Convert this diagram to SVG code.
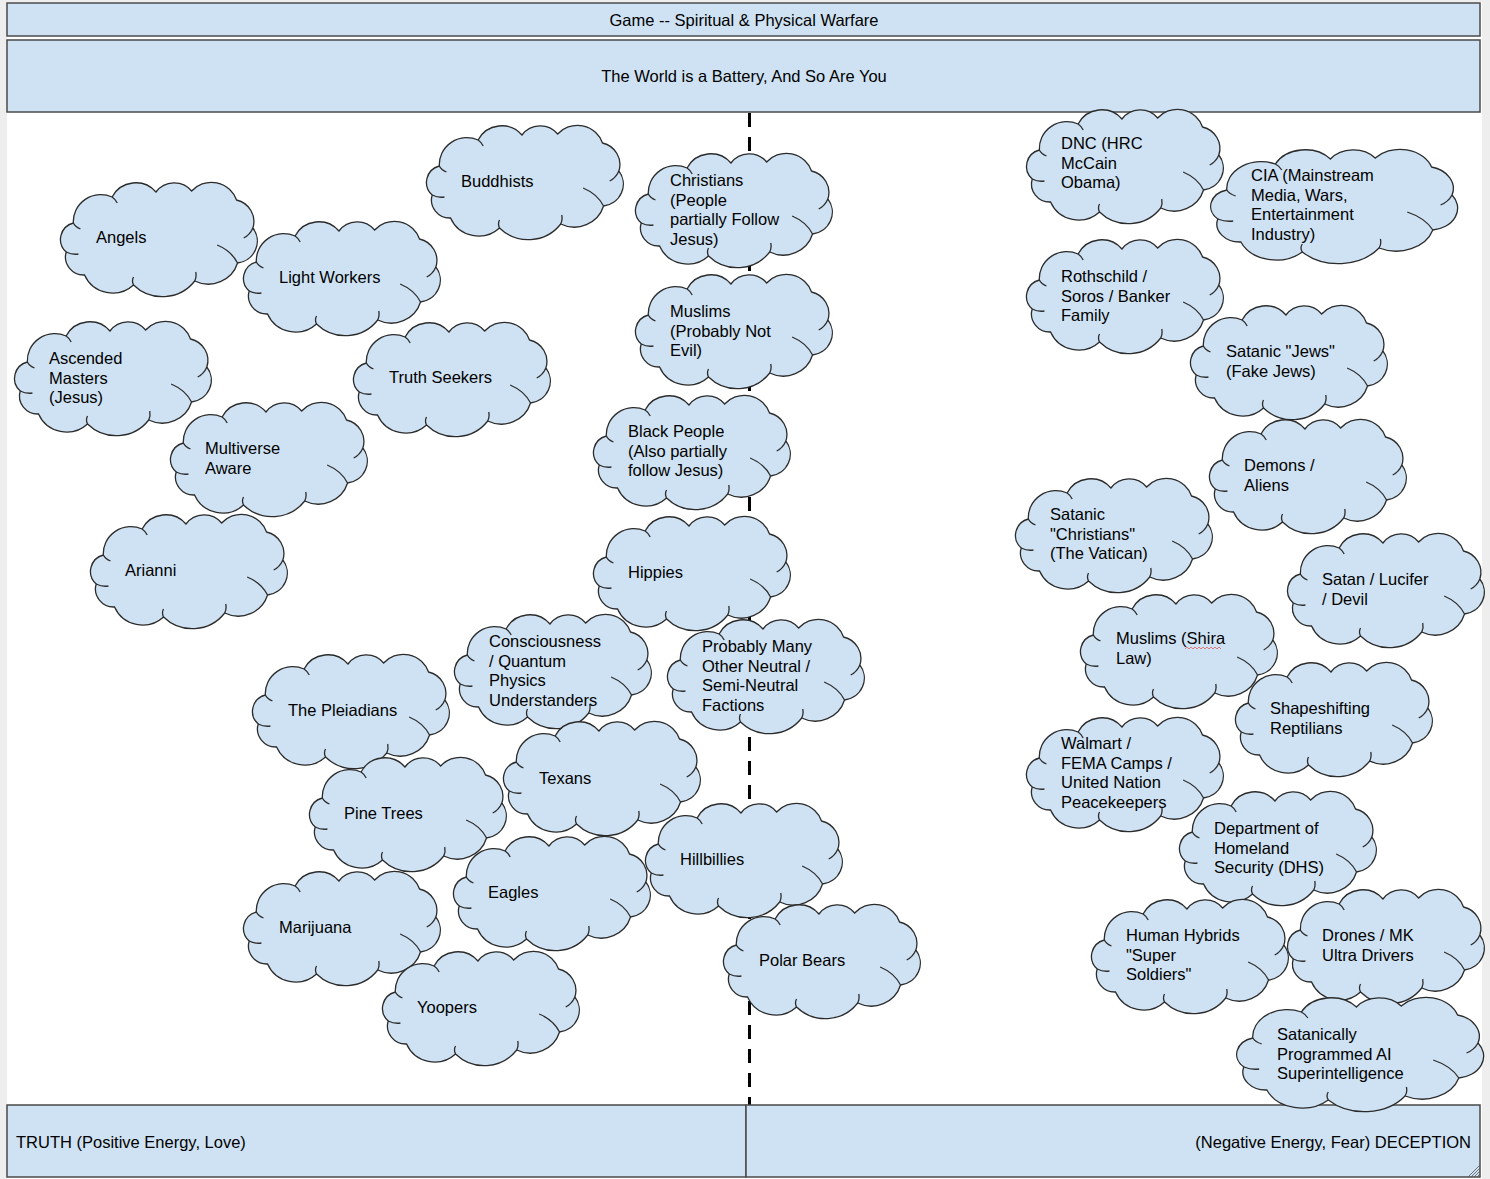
<svg xmlns="http://www.w3.org/2000/svg" xmlns:xlink="http://www.w3.org/1999/xlink" width="1490" height="1179" viewBox="0 0 1490 1179">
<style>
.bg{fill:#eeeeee}
.page{fill:#ffffff}
.box{fill:#cfe2f3;stroke:#4a4a4a;stroke-width:1.5}
.cl{fill:#cfe2f3;stroke:#2b2b2b;stroke-width:1.3;vector-effect:non-scaling-stroke}
.cli{fill:none;stroke:#2b2b2b;stroke-width:1.3;vector-effect:non-scaling-stroke}
text{font-family:"Liberation Sans",Arial,sans-serif;font-size:16.5px;fill:#000000}
.c{text-anchor:middle}
.e{text-anchor:end}
.dash{stroke:#000000;stroke-width:3;stroke-dasharray:14 10;fill:none}
</style>
<defs>
<g id="cloud">
<path class="cl" d="M17,40 A27,27 0 0 1 55,14 A26,26 0 0 1 98,9 A22,22 0 0 1 133,8 A26,26 0 0 1 177,17 A22,22 0 0 1 193,45 A22,22 0 0 1 178,80 A30,30 0 0 1 136,98 A40,40 0 0 1 76,102 A30,30 0 0 1 28,92 A18,18 0 0 1 10,69 A17,17 0 0 1 17,40 Z"/>
<path class="cli" d="M17,40 Q19,44 24,46 M10,69 Q16,72 22,71 M55,14 Q58,16 60,20 M193,45 Q190,52 184,55 M178,80 Q172,68 158,62 M136,98 Q138,94 137,89 M76,102 Q74,98 76,94"/>
</g>
</defs>
<rect class="bg" x="0" y="0" width="1490" height="1179"/>
<rect class="page" x="7" y="2" width="1475" height="1177"/>

<g id="connectors">
<line class="dash" x1="749.5" y1="113" x2="749.5" y2="1105"/>
</g>

<g id="title">
<rect class="box" x="7" y="3" width="1473" height="33"/>
<text class="c" x="744" y="26">Game -- Spiritual &amp; Physical Warfare</text>
</g>
<g id="subtitle">
<rect class="box" x="7" y="40" width="1473" height="72"/>
<text class="c" x="744" y="82">The World is a Battery, And So Are You</text>
</g>

<g id="n-buddhists"><use xlink:href="#cloud" transform="translate(422,126) scale(1.02,1)"/><text x="461" y="187">Buddhists</text></g>
<g id="n-angels"><use xlink:href="#cloud" transform="translate(56,183) scale(1.02,1)"/><text x="96" y="243">Angels</text></g>
<g id="n-lightworkers"><use xlink:href="#cloud" transform="translate(239,222) scale(1.02,1)"/><text x="279" y="283">Light Workers</text></g>
<g id="n-christians"><use xlink:href="#cloud" transform="translate(631,154) scale(1.02,1)"/><text x="670" y="186">Christians<tspan x="670" dy="19.6">(People</tspan><tspan x="670" dy="19.6">partially Follow</tspan><tspan x="670" dy="19.6">Jesus)</tspan></text></g>
<g id="n-muslims"><use xlink:href="#cloud" transform="translate(631,275) scale(1.02,1)"/><text x="670" y="317">Muslims<tspan x="670" dy="19.6">(Probably Not</tspan><tspan x="670" dy="19.6">Evil)</tspan></text></g>
<g id="n-ascended"><use xlink:href="#cloud" transform="translate(10,322) scale(1.02,1)"/><text x="49" y="364">Ascended<tspan x="49" dy="19.6">Masters</tspan><tspan x="49" dy="19.6">(Jesus)</tspan></text></g>
<g id="n-truthseekers"><use xlink:href="#cloud" transform="translate(349,323) scale(1.02,1)"/><text x="389" y="383">Truth Seekers</text></g>
<g id="n-multiverse"><use xlink:href="#cloud" transform="translate(166,403) scale(1.02,1)"/><text x="205" y="454">Multiverse<tspan x="205" dy="19.6">Aware</tspan></text></g>
<g id="n-blackpeople"><use xlink:href="#cloud" transform="translate(589,396) scale(1.02,1)"/><text x="628" y="437">Black People<tspan x="628" dy="19.6">(Also partially</tspan><tspan x="628" dy="19.6">follow Jesus)</tspan></text></g>
<g id="n-arianni"><use xlink:href="#cloud" transform="translate(86,515) scale(1.02,1)"/><text x="125" y="576">Arianni</text></g>
<g id="n-hippies"><use xlink:href="#cloud" transform="translate(589,517) scale(1.02,1)"/><text x="628" y="578">Hippies</text></g>
<g id="n-consciousness"><use xlink:href="#cloud" transform="translate(450,615) scale(1.02,1)"/><text x="489" y="647">Consciousness<tspan x="489" dy="19.6">/ Quantum</tspan><tspan x="489" dy="19.6">Physics</tspan><tspan x="489" dy="19.6">Understanders</tspan></text></g>
<g id="n-neutral"><use xlink:href="#cloud" transform="translate(663,620) scale(1.02,1)"/><text x="702" y="652">Probably Many<tspan x="702" dy="19.6">Other Neutral /</tspan><tspan x="702" dy="19.6">Semi-Neutral</tspan><tspan x="702" dy="19.6">Factions</tspan></text></g>
<g id="n-pleiadians"><use xlink:href="#cloud" transform="translate(248,655) scale(1.02,1)"/><text x="288" y="716">The Pleiadians</text></g>
<g id="n-pinetrees"><use xlink:href="#cloud" transform="translate(305,758) scale(1.02,1)"/><text x="344" y="819">Pine Trees</text></g>
<g id="n-texans"><use xlink:href="#cloud" transform="translate(499,722) scale(1.02,1)"/><text x="539" y="784">Texans</text></g>
<g id="n-hillbillies"><use xlink:href="#cloud" transform="translate(641,804) scale(1.02,1)"/><text x="680" y="865">Hillbillies</text></g>
<g id="n-eagles"><use xlink:href="#cloud" transform="translate(449,837) scale(1.02,1)"/><text x="488" y="898">Eagles</text></g>
<g id="n-marijuana"><use xlink:href="#cloud" transform="translate(239,872) scale(1.02,1)"/><text x="279" y="933">Marijuana</text></g>
<g id="n-polarbears"><use xlink:href="#cloud" transform="translate(719,905) scale(1.02,1)"/><text x="759" y="966">Polar Bears</text></g>
<g id="n-yoopers"><use xlink:href="#cloud" transform="translate(378,952) scale(1.02,1)"/><text x="417" y="1013">Yoopers</text></g>

<g id="n-dnc"><use xlink:href="#cloud" transform="translate(1022,110) scale(1.02,1)"/><text x="1061" y="149">DNC (HRC<tspan x="1061" dy="19.6">McCain</tspan><tspan x="1061" dy="19.6">Obama)</tspan></text></g>
<g id="n-cia"><use xlink:href="#cloud" transform="translate(1205,150) scale(1.28,1)"/><text x="1251" y="181">CIA (Mainstream<tspan x="1251" dy="19.6">Media, Wars,</tspan><tspan x="1251" dy="19.6">Entertainment</tspan><tspan x="1251" dy="19.6">Industry)</tspan></text></g>
<g id="n-rothschild"><use xlink:href="#cloud" transform="translate(1022,240) scale(1.02,1)"/><text x="1061" y="282">Rothschild /<tspan x="1061" dy="19.6">Soros / Banker</tspan><tspan x="1061" dy="19.6">Family</tspan></text></g>
<g id="n-satanicjews"><use xlink:href="#cloud" transform="translate(1186,306) scale(1.02,1)"/><text x="1226" y="357">Satanic "Jews"<tspan x="1226" dy="19.6">(Fake Jews)</tspan></text></g>
<g id="n-demons"><use xlink:href="#cloud" transform="translate(1205,420) scale(1.02,1)"/><text x="1244" y="471">Demons /<tspan x="1244" dy="19.6">Aliens</tspan></text></g>
<g id="n-satanicchristians"><use xlink:href="#cloud" transform="translate(1011,479) scale(1.02,1)"/><text x="1050" y="520">Satanic<tspan x="1050" dy="19.6">"Christians"</tspan><tspan x="1050" dy="19.6">(The Vatican)</tspan></text></g>
<g id="n-satan"><use xlink:href="#cloud" transform="translate(1283,534) scale(1.02,1)"/><text x="1322" y="585">Satan / Lucifer<tspan x="1322" dy="19.6">/ Devil</tspan></text></g>
<g id="n-muslimsshira"><use xlink:href="#cloud" transform="translate(1076,595) scale(1.02,1)"/><text x="1116" y="644">Muslims (Shira<tspan x="1116" dy="19.6">Law)</tspan></text><path d="M1185,649 l2,-2 l2,2 l2,-2 l2,2 l2,-2 l2,2 l2,-2 l2,2 l2,-2 l2,2 l2,-2 l2,2 l2,-2 l2,2 l2,-2 l2,2 l2,-2 l2,2" fill="none" stroke="#e06060" stroke-width="0.8"/></g>
<g id="n-reptilians"><use xlink:href="#cloud" transform="translate(1231,663) scale(1.02,1)"/><text x="1270" y="714">Shapeshifting<tspan x="1270" dy="19.6">Reptilians</tspan></text></g>
<g id="n-walmart"><use xlink:href="#cloud" transform="translate(1022,718) scale(1.02,1)"/><text x="1061" y="749">Walmart /<tspan x="1061" dy="19.6">FEMA Camps /</tspan><tspan x="1061" dy="19.6">United Nation</tspan><tspan x="1061" dy="19.6">Peacekeepers</tspan></text></g>
<g id="n-dhs"><use xlink:href="#cloud" transform="translate(1175,792) scale(1.02,1)"/><text x="1214" y="834">Department of<tspan x="1214" dy="19.6">Homeland</tspan><tspan x="1214" dy="19.6">Security (DHS)</tspan></text></g>
<g id="n-hybrids"><use xlink:href="#cloud" transform="translate(1087,900) scale(1.02,1)"/><text x="1126" y="941">Human Hybrids<tspan x="1126" dy="19.6">"Super</tspan><tspan x="1126" dy="19.6">Soldiers"</tspan></text></g>
<g id="n-drones"><use xlink:href="#cloud" transform="translate(1283,890) scale(1.02,1)"/><text x="1322" y="941">Drones / MK<tspan x="1322" dy="19.6">Ultra Drivers</tspan></text></g>

<g id="truth">
<rect class="box" x="7" y="1105" width="739" height="72"/>
<text x="16" y="1148">TRUTH (Positive Energy, Love)</text>
</g>
<g id="deception">
<rect class="box" x="746" y="1105" width="734" height="72"/>
<text class="e" x="1471" y="1148">(Negative Energy, Fear) DECEPTION</text>
<path d="M1468,1177 L1480,1165 M1471,1177 L1480,1168 M1474,1177 L1480,1171 M1477,1177 L1480,1174" stroke="#555" stroke-width="0.8"/>
</g>
<g id="n-ai"><use xlink:href="#cloud" transform="translate(1231,998) scale(1.28,1)"/><text x="1277" y="1040">Satanically<tspan x="1277" dy="19.6">Programmed AI</tspan><tspan x="1277" dy="19.6">Superintelligence</tspan></text></g>
</svg>
